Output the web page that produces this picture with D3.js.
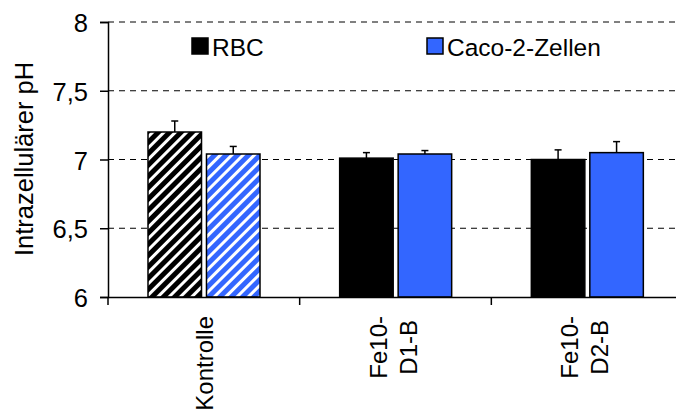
<!DOCTYPE html>
<html>
<head>
<meta charset="utf-8">
<script src="https://cdn.jsdelivr.net/npm/d3@7"></script>
<style>
  html, body { margin: 0; padding: 0; background: #fff; }
  svg { display: block; font-family: Arial, "Liberation Sans", sans-serif; }
</style>
</head>
<body>
<svg id="chart" width="676" height="412"></svg>
<script>
// Intracellular pH per treatment, for erythrocytes (RBC) and Caco-2 cells
const categories = [["Kontrolle"], ["Fe10-", "D1-B"], ["Fe10-", "D2-B"]];
const seriesNames = ["RBC", "Caco-2-Zellen"];
const rbcValues = [7.20, 7.01, 7.00];
const rbcErrors = [0.08, 0.04, 0.07];
const cacoValues = [7.04, 7.04, 7.05];
const cacoErrors = [0.055, 0.025, 0.08];
const yTicks = [6, 6.5, 7, 7.5, 8];
const yTickLabels = ["6", "6,5", "7", "7,5", "8"];
const yTitle = "Intrazellulärer pH";

const colors = { "RBC": "#000000", "Caco-2-Zellen": "#3366ff" };

const svg = d3.select("#chart");
const plotLeft = 108, plotTop = 22, plotBottom = 297, plotRight = 683;

const catKeys = categories.map(c => c.join(" "));
const x0 = d3.scaleBand().domain(catKeys).range([plotLeft, plotRight]).padding(0);
const x1 = d3.scaleBand().domain(seriesNames)
  .range([40, 152]).paddingInner(0.085).paddingOuter(0);
const y = d3.scaleLinear().domain([6, 8]).range([plotBottom, plotTop]);

// striped fills for the control group
const defs = svg.append("defs");
seriesNames.forEach((s, i) => {
  const p = defs.append("pattern")
    .attr("id", "stripe" + i)
    .attr("patternUnits", "userSpaceOnUse")
    .attr("width", 8).attr("height", 8)
    .attr("patternTransform", "rotate(45)");
  p.append("rect").attr("width", 8).attr("height", 8).attr("fill", colors[s]);
  p.append("rect").attr("x", 0).attr("width", 3).attr("height", 8).attr("fill", "#fff");
});

// dashed gridlines
svg.append("g").selectAll("line")
  .data(yTicks.filter(t => t > 6))
  .join("line")
  .attr("x1", plotLeft).attr("x2", 676)
  .attr("y1", d => y(d)).attr("y2", d => y(d))
  .attr("stroke", "#000").attr("stroke-width", 1)
  .attr("stroke-dasharray", "6,5");

// bars
const rows = [];
categories.forEach((c, i) => {
  rows.push({ cat: catKeys[i], idx: i, s: "RBC", si: 0, v: rbcValues[i], e: rbcErrors[i] });
  rows.push({ cat: catKeys[i], idx: i, s: "Caco-2-Zellen", si: 1, v: cacoValues[i], e: cacoErrors[i] });
});

svg.append("g").selectAll("rect")
  .data(rows)
  .join("rect")
  .attr("x", d => x0(d.cat) + x1(d.s))
  .attr("y", d => y(d.v))
  .attr("width", x1.bandwidth())
  .attr("height", d => y(6) - y(d.v))
  .attr("fill", d => d.idx === 0 ? `url(#stripe${d.si})` : colors[d.s])
  .attr("stroke", "#000").attr("stroke-width", 1.5);

// upper error bars
const eb = svg.append("g").attr("stroke", "#000").attr("stroke-width", 1.5);
rows.forEach(d => {
  const cx = x0(d.cat) + x1(d.s) + x1.bandwidth() / 2;
  eb.append("line").attr("x1", cx).attr("x2", cx)
    .attr("y1", y(d.v)).attr("y2", y(d.v + d.e));
  eb.append("line").attr("x1", cx - 3.5).attr("x2", cx + 3.5)
    .attr("y1", y(d.v + d.e)).attr("y2", y(d.v + d.e));
});

// y axis
const yAxis = d3.axisLeft(y).tickValues(yTicks)
  .tickFormat((d, i) => yTickLabels[i]).tickSize(8).tickPadding(12);
const gy = svg.append("g").attr("transform", `translate(${plotLeft},0)`).call(yAxis);
gy.select(".domain").attr("stroke", "#000").attr("stroke-width", 1.5);
gy.selectAll(".tick line").attr("stroke", "#000").attr("stroke-width", 1.5);
gy.selectAll(".tick text").attr("font-size", 25.5)
  .attr("font-family", "Arial, 'Liberation Sans', sans-serif")
  .attr("fill", "#000").attr("dy", "0.38em");

// x axis
const xAxis = d3.axisBottom(x0).tickSize(0).tickFormat("");
const gx = svg.append("g").attr("transform", `translate(0,${plotBottom})`).call(xAxis);
gx.select(".domain").attr("stroke", "#000").attr("stroke-width", 1.5);
gx.append("g").selectAll("line")
  .data(catKeys)
  .join("line")
  .attr("x1", d => x0(d)).attr("x2", d => x0(d))
  .attr("y1", 0).attr("y2", 8)
  .attr("stroke", "#000").attr("stroke-width", 1.5);

// rotated category labels, lines centred on each other, block starting below the axis
const fsX = 24, lineGap = 30, labelTop = 316;
categories.forEach((lines, i) => {
  const cx = x0(catKeys[i]) + x0.bandwidth() / 2;
  const n = lines.length;
  const g = svg.append("g");
  const texts = lines.map(t => g.append("text").text(t)
    .attr("font-size", fsX).attr("fill", "#000")
    .attr("text-anchor", "middle"));
  const maxLen = d3.max(texts, t => t.node().getComputedTextLength());
  const cy = labelTop + maxLen / 2;
  texts.forEach((t, j) => {
    const bx = n === 1 ? cx + 9 : cx - 9 + j * lineGap;
    t.attr("transform", `translate(${bx},${cy}) rotate(-90)`);
  });
});

// y axis title
svg.append("text")
  .attr("transform", "translate(33,159) rotate(-90)")
  .attr("text-anchor", "middle")
  .attr("font-size", 25.5).attr("fill", "#000")
  .text(yTitle);

// legend
const legendPos = [[192, 213], [427, 448]];
seriesNames.forEach((s, i) => {
  svg.append("rect")
    .attr("x", legendPos[i][0]).attr("y", 38)
    .attr("width", 16).attr("height", 16)
    .attr("fill", colors[s]).attr("stroke", "#000").attr("stroke-width", 1.5);
  svg.append("text")
    .attr("x", legendPos[i][1] - 1).attr("y", 55.5)
    .attr("font-size", 24.5).attr("fill", "#000")
    .text(s);
});
</script>
</body>
</html>
